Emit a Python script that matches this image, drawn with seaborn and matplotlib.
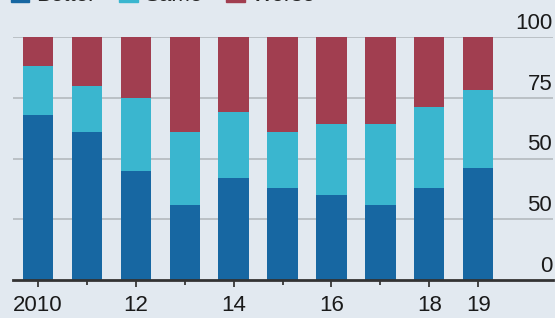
import matplotlib
matplotlib.use("Agg")
import matplotlib.pyplot as plt
import matplotlib.patches as mpatches
import seaborn as sns
import pandas as pd

years = ["2010", "2011", "2012", "2013", "2014", "2015", "2016", "2017", "2018", "2019"]
better = [68, 61, 45, 31, 42, 38, 35, 31, 38, 46]
same = [20, 19, 30, 30, 27, 23, 29, 33, 33, 32]
worse = [12, 20, 25, 39, 31, 39, 36, 36, 29, 22]
series_names = ["Better", "Same", "Worse"]
x_tick_labels = ["2010", "", "12", "", "14", "", "16", "", "18", "19"]
y_ticks = [0, 25, 50, 75, 100]
y_tick_labels = ["0", "50", "50", "75", "100"]

colors = {"Better": "#1767a2", "Same": "#3ab6cf", "Worse": "#a13e50"}
bg = "#e2e9f0"

sns.set_theme(style="white")
plt.rcParams["font.family"] = ["Liberation Sans", "DejaVu Sans"]

df = pd.DataFrame({"year": years, "Better": better, "Same": same, "Worse": worse})
df["top_same"] = df["Better"] + df["Same"]
df["top_worse"] = df["top_same"] + df["Worse"]

fig = plt.figure(figsize=(5.55, 3.18), dpi=100, facecolor=bg)
ax = fig.add_axes([13 / 555, 38 / 318, 540 / 555, 243 / 318])
ax.set_facecolor(bg)

# gridlines
for t in y_ticks[1:]:
    ax.axhline(t, color="#b4b9be", lw=1.2, zorder=0)

bw = 0.62
sns.barplot(data=df, x="year", y="top_worse", color=colors["Worse"], saturation=1,
            width=bw, ax=ax, zorder=2, linewidth=0)
sns.barplot(data=df, x="year", y="top_same", color=colors["Same"], saturation=1,
            width=bw, ax=ax, zorder=3, linewidth=0)
sns.barplot(data=df, x="year", y="Better", color=colors["Better"], saturation=1,
            width=bw, ax=ax, zorder=4, linewidth=0)

ax.set_xlim(-0.51, 10.53)
ax.set_ylim(0, 100)
ax.set_xlabel("")
ax.set_ylabel("")
for s in ["top", "right", "left"]:
    ax.spines[s].set_visible(False)
ax.spines["bottom"].set_color("#333333")
ax.spines["bottom"].set_linewidth(2)
ax.spines["bottom"].set_zorder(5)

major_pos = [i for i, l in enumerate(x_tick_labels) if l]
minor_pos = [i for i, l in enumerate(x_tick_labels) if not l]
ax.set_xticks(major_pos)
ax.set_xticklabels([x_tick_labels[i] for i in major_pos], fontsize=16, color="#1a1a1a")
ax.set_xticks(minor_pos, minor=True)
ax.tick_params(axis="x", which="major", length=5, width=1.4, color="#444444", pad=6, bottom=True)
ax.tick_params(axis="x", which="minor", length=3.5, width=1.4, color="#444444", bottom=True)
ax.set_yticks([])

trans = ax.get_yaxis_transform()
for t, lab in zip(y_ticks, y_tick_labels):
    ax.text(0.9985, t + 1.3, lab, transform=trans, ha="right", va="bottom",
            fontsize=16, color="#1a1a1a")

handles = [mpatches.Patch(color=colors[n], label=n) for n in series_names]
fig.legend(handles=handles, loc="lower left", bbox_to_anchor=(0.019, 0.982), ncol=3,
           frameon=False, fontsize=16, handlelength=0.85, handleheight=0.85,
           handletextpad=0.3, columnspacing=1.05, borderpad=0, borderaxespad=0)

fig.savefig("out.png", dpi=100, facecolor=bg)
